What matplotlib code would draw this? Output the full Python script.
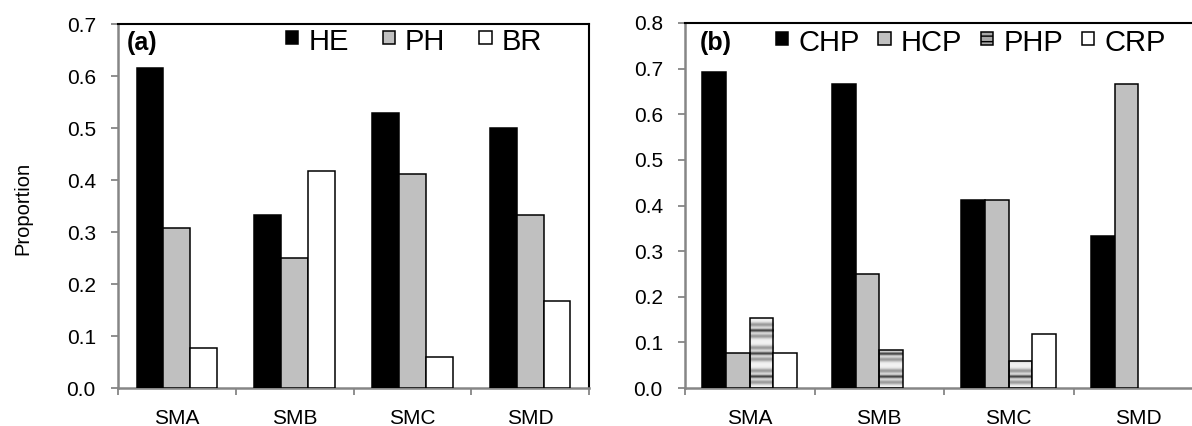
import numpy as np
import matplotlib
matplotlib.use("Agg")
import matplotlib.pyplot as plt
from matplotlib.patches import Patch, Rectangle
from matplotlib.legend_handler import HandlerPatch

plt.rcParams['font.family'] = ['Liberation Sans', 'DejaVu Sans']

categories = ['SMA', 'SMB', 'SMC', 'SMD']

# Panel (a)
a_labels = ['HE', 'PH', 'BR']
he = [0.615, 0.333, 0.529, 0.500]
ph = [0.308, 0.250, 0.412, 0.333]
br = [0.077, 0.417, 0.059, 0.167]

# Panel (b)
b_labels = ['CHP', 'HCP', 'PHP', 'CRP']
chp = [0.692, 0.667, 0.412, 0.333]
hcp = [0.077, 0.250, 0.412, 0.667]
php = [0.154, 0.083, 0.059, 0.0]
crp = [0.077, 0.0, 0.118, 0.0]

W, H = 1192, 426
fig = plt.figure(figsize=(W / 100, H / 100), dpi=100)

def px(x0, y0, x1, y1):
    return [x0 / W, 1 - y1 / H, (x1 - x0) / W, (y1 - y0) / H]

GRAY_AX = '#868686'
SILVER = '#C0C0C0'


class SquareHandler(HandlerPatch):
    def create_artists(self, legend, orig_handle, xdescent, ydescent, width, height,
                       fontsize, trans):
        side = width
        cy = -ydescent + height / 2 + 0.08 * fontsize
        p = Rectangle((-xdescent, cy - side / 2), side, side)
        self.update_prop(p, orig_handle, legend)
        p.set_transform(trans)
        return [p]


def style_axes(ax, ymax, yticks):
    ax.set_xlim(-0.5, 3.5)
    ax.set_ylim(0, ymax)
    for s in ['top', 'right']:
        ax.spines[s].set_color('black')
        ax.spines[s].set_linewidth(1.5)
    for s in ['left', 'bottom']:
        ax.spines[s].set_color(GRAY_AX)
        ax.spines[s].set_linewidth(1.8)
    ax.set_yticks(yticks)
    ax.set_yticklabels([f'{v:.1f}' for v in yticks])
    ax.set_xticks(np.arange(-0.5, 4.0, 1.0))
    ax.set_xticklabels([])
    ax.set_xticks(np.arange(4), minor=True)
    ax.set_xticklabels(categories, minor=True)
    ax.tick_params(axis='y', direction='out', length=5, width=1.3, color=GRAY_AX,
                   labelsize=15, pad=11, right=False)
    ax.tick_params(axis='x', which='major', direction='out', length=5, width=1.3,
                   color=GRAY_AX, top=False)
    ax.tick_params(axis='x', which='minor', length=0, labelsize=15, pad=15)


def hide_zero(bars):
    for b in bars:
        if b.get_height() <= 0:
            b.set_visible(False)


def php_fill(ax, bars, period):
    yy = np.linspace(0, 1, 800)
    for b in bars:
        h = b.get_height()
        if h <= 0:
            continue
        x0 = b.get_x(); w = b.get_width()
        ys = yy * h
        t = (ys / period) % 1.0
        inten = (0.95 - 0.7 * np.exp(-((t - 0.5) / 0.07) ** 2)
                 - 0.35 * np.exp(-((t - 0.25) / 0.1) ** 2)
                 - 0.35 * np.exp(-((t - 0.75) / 0.1) ** 2))
        img = np.tile(inten[:, None], (1, 10))
        im = ax.imshow(img, cmap='gray', vmin=0, vmax=1, origin='lower',
                       extent=[x0, x0 + w, 0, h], aspect='auto', zorder=2,
                       interpolation='bilinear')
        im.set_clip_path(b)


leg_kw = dict(frameon=False, fontsize=21, handlelength=0.42, handleheight=0.7,
              handletextpad=0.34, borderpad=0, borderaxespad=0,
              handler_map={Patch: SquareHandler()})

# ---------- Panel (a) ----------
axa = fig.add_axes(px(118, 24, 589, 388))
x = np.arange(4)
bw = 0.228
hide_zero(axa.bar(x - bw, he, bw, color='black', edgecolor='black', linewidth=1.1, zorder=3))
hide_zero(axa.bar(x, ph, bw, color=SILVER, edgecolor='black', linewidth=1.1, zorder=3))
hide_zero(axa.bar(x + bw, br, bw, color='white', edgecolor='black', linewidth=1.1, zorder=3))
style_axes(axa, 0.7, np.round(np.arange(0, 0.71, 0.1), 1))
fig.text(23 / W, 1 - 208 / H, 'Proportion', rotation=90, ha='center', va='center', fontsize=14.5)
fig.text(127 / W, 1 - 43 / H, '(a)', fontsize=18, fontweight='bold', ha='left', va='center')

handles_a = [Patch(facecolor=c, edgecolor='black', linewidth=1.1) for c in ['black', SILVER, 'white']]
fig.legend(handles_a, a_labels, loc='center left', bbox_to_anchor=(286 / W, 1 - 42 / H),
           ncol=3, columnspacing=1.17, **leg_kw)

# ---------- Panel (b) ----------
axb = fig.add_axes(px(685, 23, 1203, 388))
bw2 = 0.183
hide_zero(axb.bar(x - 1.5 * bw2, chp, bw2, color='black', edgecolor='black', linewidth=1.1, zorder=3))
hide_zero(axb.bar(x - 0.5 * bw2, hcp, bw2, color=SILVER, edgecolor='black', linewidth=1.1, zorder=3))
bars_php = axb.bar(x + 0.5 * bw2, php, bw2, color='none', edgecolor='black', linewidth=1.1, zorder=3)
php_fill(axb, bars_php, 0.05)
hide_zero(bars_php)
hide_zero(axb.bar(x + 1.5 * bw2, crp, bw2, color='white', edgecolor='black', linewidth=1.1, zorder=3))
style_axes(axb, 0.8, np.round(np.arange(0, 0.81, 0.1), 1))
fig.text(700 / W, 1 - 43 / H, '(b)', fontsize=18, fontweight='bold', ha='left', va='center')

handles_b = [Patch(facecolor='black', edgecolor='black', linewidth=1.1),
             Patch(facecolor=SILVER, edgecolor='black', linewidth=1.1),
             Patch(facecolor='#A8A8A8', edgecolor='black', linewidth=1.1, hatch='---'),
             Patch(facecolor='white', edgecolor='black', linewidth=1.1)]
fig.legend(handles_b, b_labels, loc='center left', bbox_to_anchor=(776 / W, 1 - 43 / H),
           ncol=4, columnspacing=0.65, **leg_kw)

fig.savefig('out.png', dpi=100)
